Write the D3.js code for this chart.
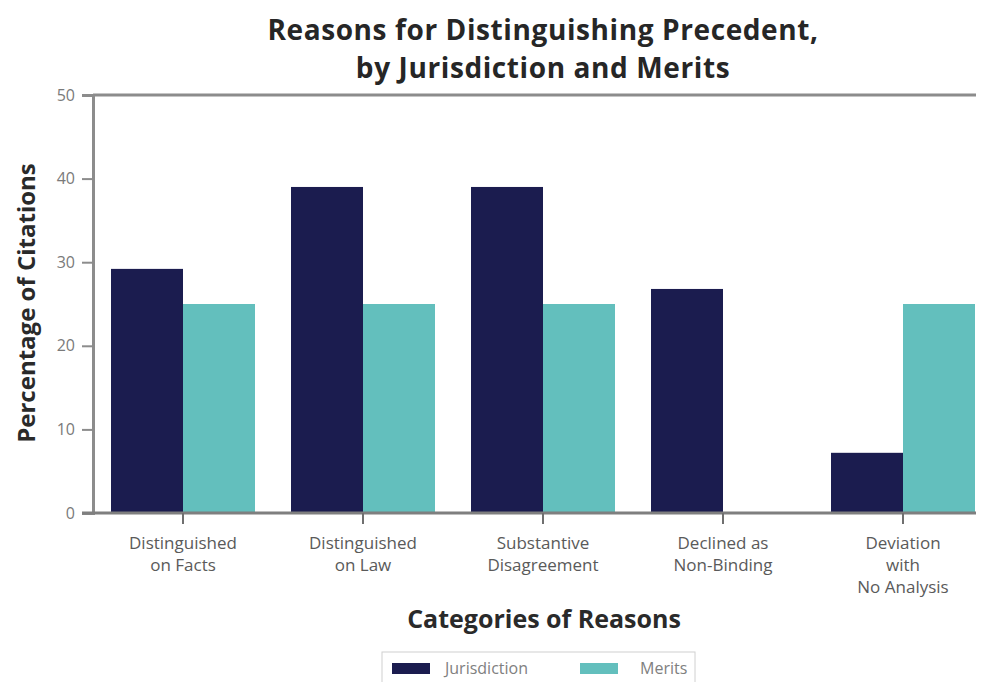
<!DOCTYPE html>
<html>
<head>
<meta charset="utf-8">
<script src="https://cdn.jsdelivr.net/npm/d3@7"></script>
<style>
html,body{margin:0;padding:0;background:#fff;}
svg{display:block;}
</style>
</head>
<body>
<svg id="chart" width="983" height="682"></svg>
<script>
const categories = [
  ["Distinguished", "on Facts"],
  ["Distinguished", "on Law"],
  ["Substantive", "Disagreement"],
  ["Declined as", "Non-Binding"],
  ["Deviation", "with", "No Analysis"]
];
const seriesNames = ["Jurisdiction", "Merits"];
const jurisdictionValues = [29.2, 39, 39, 26.8, 7.2];
const meritsValues = [25, 25, 25, 0, 25];
const yTicks = [0, 10, 20, 30, 40, 50];
const colors = ["#1b1c4f", "#63bfbd"];
const titleLines = ["Reasons for Distinguishing Precedent,", "by Jurisdiction and Merits"];

(function () {
const svg = d3.select("#chart");
const font = "'Open Sans', 'Noto Sans', sans-serif";
const mLeft = 93, mRight = 993, mTop = 95, mBottom = 513, axisEnd = 976;

const catKeys = categories.map((c, i) => i);
const x0 = d3.scaleBand().domain(catKeys).range([mLeft, mRight]).paddingInner(0.2).paddingOuter(0.1);
const x1 = d3.scaleBand().domain(seriesNames).range([0, x0.bandwidth()]);
const y = d3.scaleLinear().domain([0, 50]).range([mBottom, mTop]);

// Title (two separate lines)
titleLines.forEach((line, k) => {
  svg.append("text").attr("x", 543).attr("y", 40 + k * 38)
    .attr("text-anchor", "middle").attr("font-family", font).attr("font-weight", "bold")
    .attr("font-size", 28).attr("letter-spacing", 0.6).attr("fill", "#262626").text(line);
});

// Bars
const data = catKeys.map(i => ({i, vals: [jurisdictionValues[i], meritsValues[i]]}));
const groups = svg.append("g").selectAll("g").data(data).join("g")
  .attr("transform", d => `translate(${x0(d.i)},0)`);
groups.selectAll("rect").data(d => d.vals.map((v, k) => ({v, k})))
  .join("rect")
  .attr("x", d => x1(seriesNames[d.k]))
  .attr("width", x1.bandwidth())
  .attr("y", d => y(d.v))
  .attr("height", d => y(0) - y(d.v))
  .attr("fill", d => colors[d.k]);

// Top border line
svg.append("line").attr("x1", mLeft).attr("x2", axisEnd).attr("y1", mTop).attr("y2", mTop)
  .attr("stroke", "#8c8c8c").attr("stroke-width", 3);

// Y axis
const yAxis = svg.append("g").attr("transform", `translate(${mLeft},0)`)
  .call(d3.axisLeft(y).tickValues(yTicks).tickSize(11).tickPadding(7));
yAxis.select(".domain").attr("stroke", "#8c8c8c").attr("stroke-width", 3);
yAxis.selectAll(".tick line").attr("stroke", "#8c8c8c").attr("stroke-width", 2);
yAxis.selectAll(".tick text").attr("font-family", font).attr("font-size", 16).attr("fill", "#7a7a7a");

// X axis
const xAxisG = svg.append("g").attr("transform", `translate(0,${mBottom})`);
xAxisG.append("line").attr("x1", mLeft - 11).attr("x2", axisEnd).attr("y1", 0).attr("y2", 0)
  .attr("stroke", "#7f7f7f").attr("stroke-width", 3);
const xt = xAxisG.selectAll("g.xtick").data(catKeys).join("g").attr("class", "xtick")
  .attr("transform", i => `translate(${x0(i) + x0.bandwidth() / 2},0)`);
xt.append("line").attr("y1", 0).attr("y2", 11).attr("stroke", "#6f6f6f").attr("stroke-width", 2);
xt.append("text").attr("text-anchor", "middle").attr("font-family", font).attr("font-size", 17)
  .attr("fill", "#5a5a5a").each(function(i) {
    const t = d3.select(this);
    categories[i].forEach((line, k) => {
      t.append("tspan").attr("x", 0).attr("y", 36 + k * 22).text(line);
    });
  });

// Axis titles
svg.append("text").attr("x", 544).attr("y", 628).attr("text-anchor", "middle")
  .attr("font-family", font).attr("font-weight", "bold").attr("font-size", 25).attr("fill", "#2a2a2a")
  .text("Categories of Reasons");
svg.append("text").attr("transform", "translate(35,303) rotate(-90)").attr("text-anchor", "middle")
  .attr("font-family", font).attr("font-weight", "bold").attr("font-size", 24).attr("fill", "#2a2a2a")
  .text("Percentage of Citations");

// Legend
const lg = svg.append("g");
lg.append("rect").attr("x", 382).attr("y", 652).attr("width", 313).attr("height", 40)
  .attr("fill", "#fff").attr("stroke", "#d0d0d0").attr("stroke-width", 1);
const legendX = [392, 580];
const textX = [445, 640];
seriesNames.forEach((name, k) => {
  lg.append("rect").attr("x", legendX[k]).attr("y", 663).attr("width", 38).attr("height", 11)
    .attr("fill", colors[k]);
  lg.append("text").attr("x", textX[k]).attr("y", 674).attr("font-family", font)
    .attr("font-size", 16).attr("fill", "#808080").text(name);
});
})();
</script>
</body>
</html>
